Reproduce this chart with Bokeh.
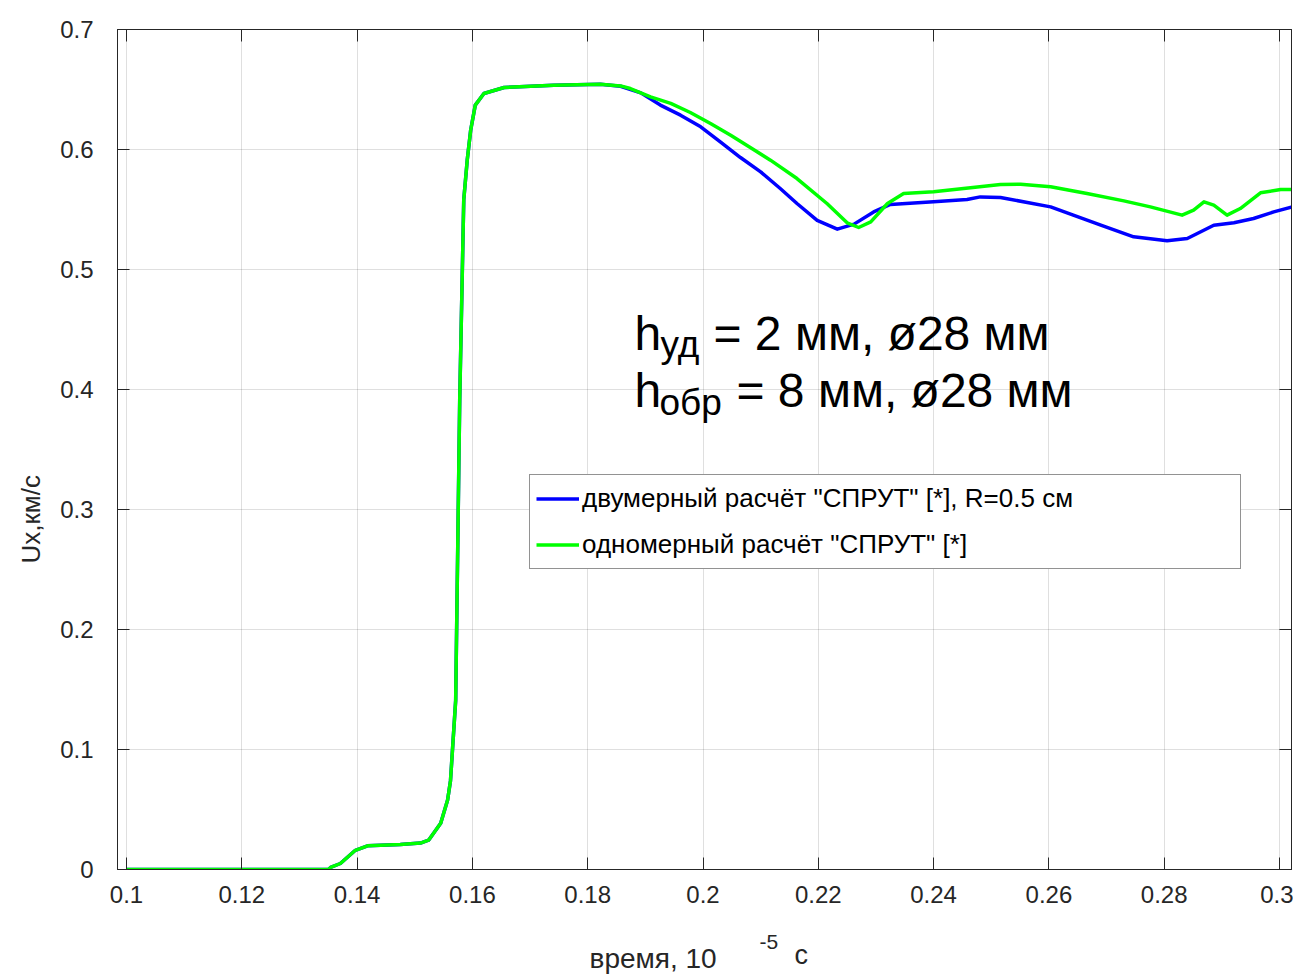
from bokeh.plotting import figure
from bokeh.layouts import column
from bokeh.models import (Range1d, FixedTicker, LinearAxis, Label, Legend, LegendItem,
                          CustomJSTickFormatter, Title)
from bokeh.embed import file_html
from bokeh.resources import INLINE

# ---------------- data ----------------
t_2d = [0.1, 0.130, 0.1350, 0.1354, 0.1371, 0.1397, 0.1418, 0.1475, 0.1510, 0.1524,
        0.1545, 0.1557, 0.1562, 0.1571, 0.1578, 0.1585, 0.1591, 0.1597, 0.1605, 0.1620,
        0.1655, 0.1741, 0.1822, 0.1857, 0.1892, 0.1926, 0.1961, 0.1996, 0.2030, 0.2065,
        0.2100, 0.2134, 0.2163, 0.2198, 0.2233, 0.2262, 0.2296, 0.2325, 0.2400, 0.2458,
        0.2481, 0.2516, 0.2603, 0.2690, 0.2747, 0.2805, 0.2840, 0.2886, 0.2921, 0.2955,
        0.2990, 0.3022]
u_2d = [0.0, 0.0, 0.0, 0.0017, 0.005, 0.016, 0.0197, 0.0208, 0.022, 0.0244,
        0.0386, 0.058, 0.074, 0.141, 0.391, 0.558, 0.591, 0.616, 0.637, 0.6467,
        0.6517, 0.6536, 0.6544, 0.6527, 0.6472, 0.637, 0.6286, 0.6189, 0.6064, 0.5933,
        0.5814, 0.5675, 0.555, 0.541, 0.5336, 0.5378, 0.548, 0.5542, 0.5564, 0.5583,
        0.5605, 0.560, 0.5522, 0.5369, 0.5272, 0.5239, 0.5258, 0.5369, 0.5389, 0.5425,
        0.548, 0.5522]

t_1d = [0.1, 0.130, 0.1350, 0.1354, 0.1371, 0.1397, 0.1418, 0.1475, 0.1510, 0.1524,
        0.1545, 0.1557, 0.1562, 0.1571, 0.1578, 0.1585, 0.1591, 0.1597, 0.1605, 0.1620,
        0.1655, 0.1741, 0.1822, 0.1857, 0.1874, 0.1909, 0.1944, 0.1978, 0.2013, 0.2048,
        0.2082, 0.2117, 0.2163, 0.2215, 0.2250, 0.2270, 0.2291, 0.2320, 0.2348, 0.2400,
        0.2516, 0.2551, 0.2603, 0.2666, 0.2730, 0.2776, 0.2831, 0.2851, 0.2869, 0.2886,
        0.2909, 0.2932, 0.2967, 0.3002, 0.3022]
u_1d = [0.0, 0.0, 0.0, 0.0017, 0.005, 0.016, 0.0197, 0.0208, 0.022, 0.0244,
        0.0386, 0.058, 0.074, 0.141, 0.391, 0.558, 0.591, 0.616, 0.637, 0.6467,
        0.6517, 0.6536, 0.6544, 0.6530, 0.6508, 0.6439, 0.6385, 0.6308, 0.6217, 0.6119,
        0.6017, 0.5911, 0.5758, 0.555, 0.5389, 0.535, 0.5397, 0.555, 0.5633, 0.5647,
        0.5708, 0.5711, 0.5689, 0.5633, 0.5572, 0.5522, 0.5453, 0.5494, 0.5564, 0.5536,
        0.5453, 0.5508, 0.5639, 0.5667, 0.5667]

x_ticks = [0.1, 0.12, 0.14, 0.16, 0.18, 0.2, 0.22, 0.24, 0.26, 0.28, 0.3]
x_tick_labels = ["0.1", "0.12", "0.14", "0.16", "0.18", "0.2", "0.22", "0.24", "0.26", "0.28", "0.3"]
y_ticks = [0, 0.1, 0.2, 0.3, 0.4, 0.5, 0.6, 0.7]
y_tick_labels = ["0", "0.1", "0.2", "0.3", "0.4", "0.5", "0.6", "0.7"]

series_names = ['двумерный расчёт "СПРУТ" [*], R=0.5 см', 'одномерный расчёт "СПРУТ" [*]']
series_colors = ["#0000ff", "#00ff00"]

FONT = "Liberation Sans"
AX = "#262626"

p = figure(frame_width=1174, frame_height=840, title=None,
           min_border_left=117, min_border_right=2, min_border_top=29, min_border_bottom=56,
           x_range=Range1d(0.09844, 0.30208), y_range=Range1d(0.0, 0.7),
           output_backend="svg", toolbar_location=None, tools="")
p.background_fill_color = "white"
p.border_fill_color = "white"
p.outline_line_color = AX
p.outline_line_width = 1

def style_axis(ax, ticks, labels, show_labels=True):
    ax.ticker = FixedTicker(ticks=ticks)
    ax.axis_line_color = AX
    ax.major_tick_line_color = AX
    ax.major_tick_in = 12
    ax.major_tick_out = 0
    ax.minor_tick_line_color = None
    ax.major_label_text_font = FONT
    ax.major_label_text_color = AX
    if show_labels:
        ax.major_label_overrides = {float(t): l for t, l in zip(ticks, labels)}
        ax.major_label_text_font_size = "24px"
    else:
        ax.formatter = CustomJSTickFormatter(code="return ''")
        ax.major_label_standoff = 0

style_axis(p.xaxis[0], x_ticks, x_tick_labels)
style_axis(p.yaxis[0], y_ticks, y_tick_labels)
p.xaxis[0].major_label_standoff = 16
p.yaxis[0].major_label_standoff = 24

top_ax = LinearAxis()
style_axis(top_ax, x_ticks, x_tick_labels, show_labels=False)
right_ax = LinearAxis()
style_axis(right_ax, y_ticks, y_tick_labels, show_labels=False)
p.add_layout(top_ax, "above")
p.add_layout(right_ax, "right")

# y-axis title, placed in the left border
p.add_layout(Title(text="Ux,км/с", align="left", offset=306, text_font=FONT,
                   text_font_size="26px", text_font_style="normal", text_color=AX,
                   standoff=24), "left")

p.xgrid.ticker = FixedTicker(ticks=x_ticks)
p.ygrid.ticker = FixedTicker(ticks=y_ticks)
p.grid.grid_line_color = AX
p.grid.grid_line_alpha = 0.15
p.grid.grid_line_width = 1

r2 = p.line(t_2d, u_2d, line_color=series_colors[0], line_width=3.5, line_join="round")
r1 = p.line(t_1d, u_1d, line_color=series_colors[1], line_width=3.5, line_join="round")

legend = Legend(items=[LegendItem(label=series_names[0], renderers=[r2]),
                       LegendItem(label=series_names[1], renderers=[r1])],
                location=(412, 300), orientation="vertical")
legend.label_text_font = FONT
legend.label_text_font_size = "26px"
legend.label_text_color = "black"
legend.border_line_color = AX
legend.border_line_width = 1
legend.background_fill_color = "white"
legend.background_fill_alpha = 1
legend.padding = 6
legend.margin = 0
legend.spacing = 11
legend.glyph_width = 43
legend.glyph_height = 35
legend.label_height = 35
legend.label_standoff = 3
legend.label_width = 652
p.add_layout(legend, "center")

def lab(fig, text, x, y, size, color="black"):
    fig.add_layout(Label(x=x, y=y, x_units="screen", y_units="screen", text=text,
                         text_font=FONT, text_font_size=size, text_color=color,
                         text_align="left", text_baseline="alphabetic"))

# annotation inside the axes
lab(p, "h", 517, 536, "48px")
lab(p, "уд", 543, 525, "37px")
lab(p, "= 2 мм, ø28 мм", 596, 536, "48px")
lab(p, "h", 517, 479, "48px")
lab(p, "обр", 542, 467, "37px")
lab(p, "= 8 мм, ø28 мм", 619, 479, "48px")

# strip below the axes carrying the x-axis title
s = figure(width=1293, height=49, title=None, min_border_left=117, min_border_right=2,
           min_border_top=0, min_border_bottom=0,
           x_range=Range1d(0, 1), y_range=Range1d(0, 1),
           x_axis_type=None, y_axis_type=None, output_backend="svg",
           toolbar_location=None, tools="")
s.outline_line_color = None
s.background_fill_color = "white"
s.border_fill_color = "white"
s.grid.visible = False
lab(s, "время, 10", 472, 16, "28px", color=AX)
lab(s, "-5", 642, 33, "21px", color=AX)
lab(s, "с", 677, 20, "27px", color=AX)

layout = column(p, s, spacing=0)
open("out.html", "w").write(file_html(layout, INLINE))
